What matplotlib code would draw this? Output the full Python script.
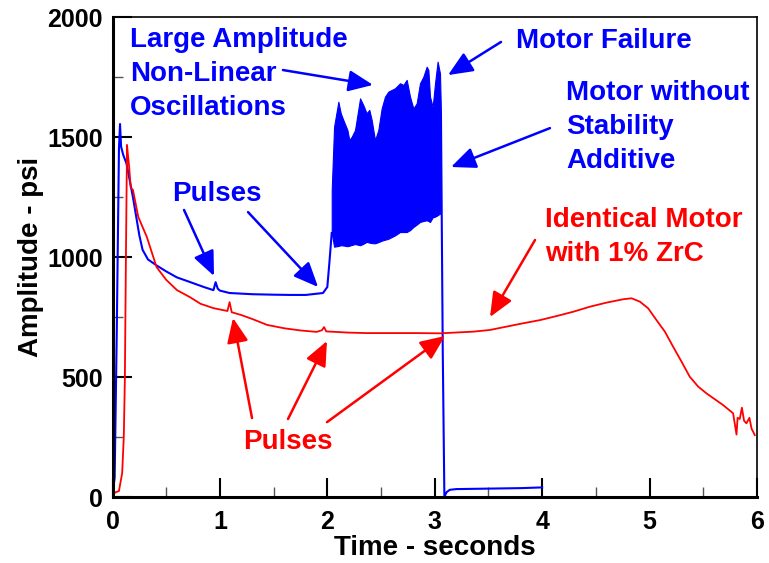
import matplotlib
matplotlib.use("Agg")
import matplotlib.pyplot as plt
from matplotlib.ticker import MultipleLocator

plt.rcParams['font.family'] = ['Liberation Sans', 'DejaVu Sans']
plt.rcParams['font.weight'] = 'bold'

BLUE = '#0000ff'
RED = '#ff0000'

# motor without stability additive (blue), steady part before instability
blue_t = [0, 0.02, 0.04, 0.06, 0.07, 0.08, 0.1, 0.13, 0.16, 0.19, 0.22, 0.25, 0.28,
          0.33, 0.41, 0.5, 0.6, 0.72, 0.85, 0.94, 0.96, 0.98, 1.0, 1.09, 1.3, 1.5,
          1.65, 1.8, 1.96, 2.0, 2.02, 2.041]
blue_p = [10, 80, 700, 1450, 1554, 1460, 1425, 1390, 1320, 1250, 1170, 1090, 1030,
          990, 965, 940, 915, 896, 875, 862, 895, 868, 860, 850, 845, 843,
          842, 842, 850, 875, 980, 1100]

# oscillation band (upper / lower envelope)
osc_t = [2.041, 2.063, 2.103, 2.125, 2.149, 2.187, 2.205, 2.227, 2.258, 2.305,
         2.335, 2.366, 2.391, 2.413, 2.444, 2.475, 2.506, 2.537, 2.568, 2.599,
         2.630, 2.677, 2.708, 2.739, 2.770, 2.801, 2.832, 2.863, 2.894, 2.925,
         2.941, 2.956, 2.981, 3.003, 3.027, 3.049, 3.058]
osc_up = [1279, 1543, 1647, 1599, 1571, 1529, 1487, 1501, 1529, 1661,
          1633, 1599, 1613, 1571, 1487, 1529, 1619, 1668, 1689, 1696,
          1703, 1724, 1717, 1738, 1668, 1619, 1640, 1724, 1751, 1793,
          1779, 1668, 1626, 1724, 1814, 1765, 1599]
osc_lo = [1100, 1043, 1046, 1049, 1048, 1045, 1047, 1050, 1054, 1049,
          1055, 1063, 1060, 1058, 1057, 1062, 1068, 1072, 1076, 1083,
          1090, 1104, 1104, 1104, 1112, 1125, 1135, 1146, 1150, 1153,
          1150, 1146, 1165, 1168, 1174, 1181, 1181]

# after motor failure
fail_t = [3.058, 3.075, 3.09, 3.11, 3.14, 3.2, 3.5, 3.8, 4.0]
fail_p = [1599, 600, 0, 20, 30, 33, 35, 37, 40]

# identical motor with 1% ZrC (red)
red_t = [0, 0.03, 0.06, 0.09, 0.105, 0.115, 0.125, 0.135, 0.145, 0.155, 0.17, 0.19,
         0.24, 0.32, 0.41, 0.5, 0.6, 0.72, 0.82, 0.94, 1.07, 1.09, 1.11, 1.2, 1.3,
         1.44, 1.6, 1.75, 1.9, 1.95, 1.97, 1.99, 2.2, 2.37, 2.83, 3.049, 3.359,
         3.514, 3.669, 3.824, 3.979, 4.135, 4.290, 4.445, 4.600, 4.755, 4.833,
         4.910, 4.988, 5.065, 5.143, 5.220, 5.298, 5.375, 5.453, 5.530, 5.685,
         5.778, 5.81, 5.82, 5.84, 5.86, 5.88, 5.902, 5.93, 5.95, 5.98]
red_p = [10, 20, 25, 100, 250, 487, 1000, 1467, 1420, 1375, 1287, 1280,
         1167, 1083, 958, 905, 862, 833, 805, 787, 775, 812, 770, 758, 742,
         717, 703, 694, 688, 695, 708, 690, 685, 683, 683, 682, 689,
         696, 710, 724, 737, 754, 772, 793, 810, 824, 828,
         814, 786, 737, 689, 626, 564, 501, 460, 432, 383,
         349, 260, 330, 325, 372, 318, 307, 330, 285, 258]

fig = plt.figure(figsize=(7.69, 5.63), dpi=100)
ax = fig.add_axes([0.1463, 0.1172, 0.838, 0.8526])

ax.plot(blue_t, blue_p, color=BLUE, lw=1.5)
ax.fill_between(osc_t, osc_up, osc_lo, color=BLUE, lw=0.8)
ax.plot(fail_t, fail_p, color=BLUE, lw=1.5)
ax.plot(red_t, red_p, color=RED, lw=1.3)

ax.set_xlim(0, 6)
ax.set_ylim(0, 2000)
ax.xaxis.set_major_locator(MultipleLocator(1))
ax.xaxis.set_minor_locator(MultipleLocator(0.5))
ax.yaxis.set_major_locator(MultipleLocator(500))
ax.yaxis.set_minor_locator(MultipleLocator(250))
ax.tick_params(which='major', direction='in', length=14, width=1.5, labelsize=18)
ax.tick_params(axis='x', which='major', pad=9)
ax.tick_params(axis='y', which='major', pad=7)
ax.tick_params(which='minor', direction='in', length=7, width=1, color='#555555')
for s in ['left', 'bottom']:
    ax.spines[s].set_linewidth(2.2)
for s in ['top', 'right']:
    ax.spines[s].set_linewidth(1.2)

ax.set_xlabel('Time - seconds', fontsize=20, fontweight='bold', labelpad=1)
ax.set_ylabel('Amplitude - psi', fontsize=20, fontweight='bold', labelpad=2)

tfs = 20
ax.text(0.163, 1762, 'Large Amplitude\nNon-Linear\nOscillations', color=BLUE,
        fontsize=tfs, ha='left', va='center', linespacing=1.4)
ax.text(3.757, 1900, 'Motor Failure', color=BLUE, fontsize=tfs, ha='left', va='center')
ax.text(4.222, 1542, 'Motor without\nStability\nAdditive', color=BLUE,
        fontsize=tfs, ha='left', va='center', linespacing=1.4)
ax.text(0.554, 1262, 'Pulses', color=BLUE, fontsize=tfs, ha='left', va='center')
ax.text(4.027, 1083, 'Identical Motor\nwith 1% ZrC', color=RED,
        fontsize=tfs, ha='left', va='center', linespacing=1.4)
ax.text(1.215, 229, 'Pulses', color=RED, fontsize=tfs, ha='left', va='center')

blue_arrows = [((1.587, 1779), (2.425, 1717)),
               ((3.617, 1896), (3.124, 1758)),
               ((4.073, 1537), (3.152, 1375)),
               ((0.666, 1196), (0.945, 921)),
               ((1.262, 1187), (1.914, 875))]
red_arrows = [((3.934, 1071), (3.515, 750)),
              ((1.299, 329), (1.122, 746)),
              ((1.634, 325), (1.997, 650)),
              ((1.997, 312), (3.096, 671))]

for arrows, c in [(blue_arrows, BLUE), (red_arrows, RED)]:
    for tail, head in arrows:
        ax.annotate('', xy=head, xytext=tail,
                    arrowprops=dict(arrowstyle='-|>,head_length=1.5,head_width=0.65',
                                    color=c, lw=1.8, shrinkA=0, shrinkB=0,
                                    mutation_scale=10))

fig.savefig('out.png', dpi=100)
